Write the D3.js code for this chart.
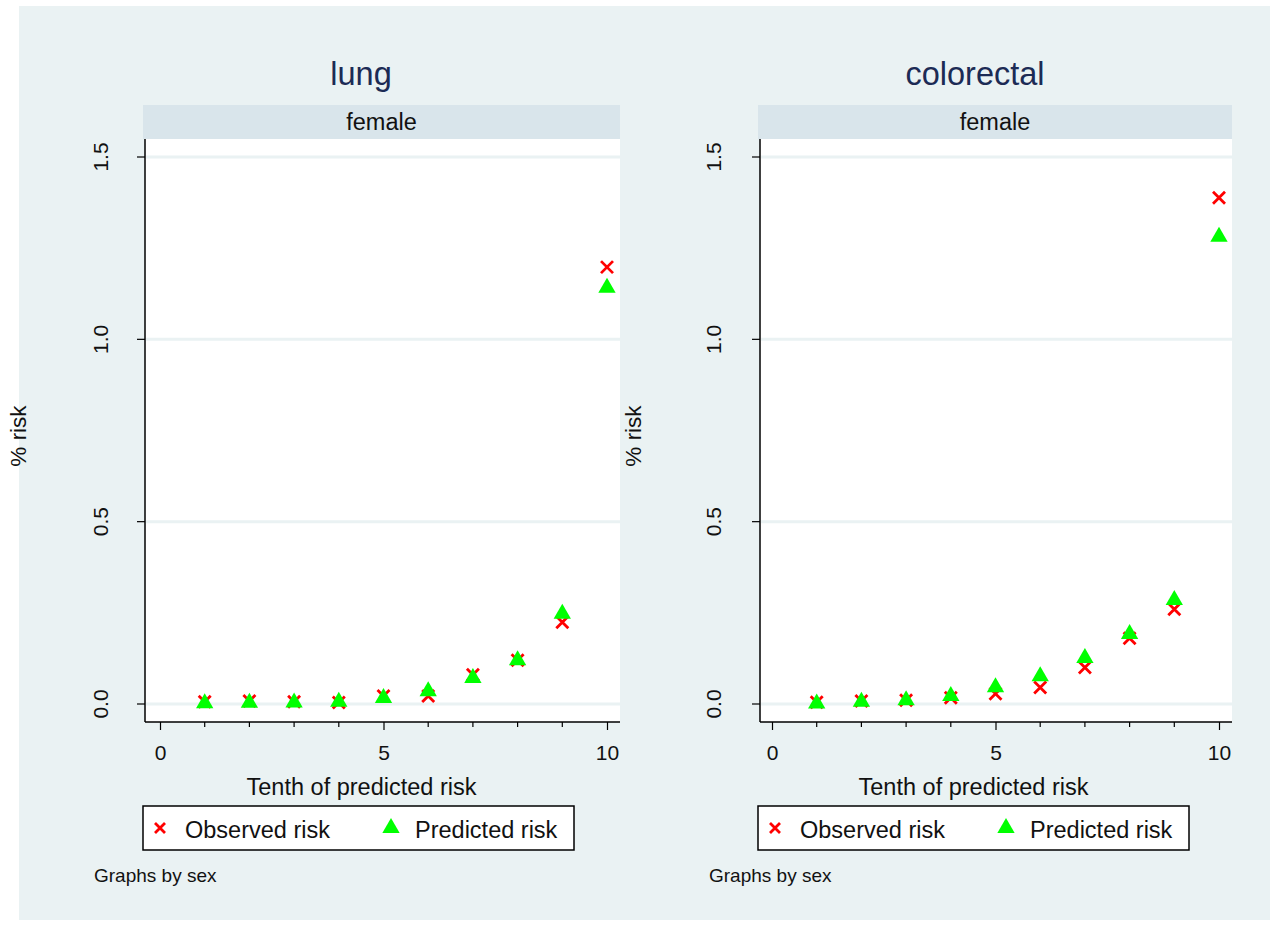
<!DOCTYPE html>
<html><head><meta charset="utf-8">
<script src="https://cdn.jsdelivr.net/npm/d3@7"></script>
<style>body{margin:0;background:#fff}svg{display:block}text{font-family:"Liberation Sans",Arial,sans-serif}</style>
</head><body>
<script>
const tenths = [1,2,3,4,5,6,7,8,9,10];
const lungObserved = [0.006,0.008,0.006,0.004,0.022,0.022,0.08,0.12,0.224,1.198];
const lungPredicted = [0.005,0.006,0.007,0.009,0.019,0.038,0.074,0.123,0.25,1.144];
const crcObserved = [0.005,0.008,0.01,0.017,0.028,0.045,0.1,0.18,0.26,1.388];
const crcPredicted = [0.004,0.009,0.013,0.025,0.049,0.079,0.129,0.195,0.288,1.284];
const panelTitles = ["lung","colorectal"];
const stripLabel = "female";
const yTicks = [0,0.5,1.0,1.5];
const xTicks = [0,5,10];
const xMinorTicks = [1,2,3,4,6,7,8,9];
const seriesNames = ["Observed risk","Predicted risk"];

const W=1278,H=925;
const svg=d3.select("body").append("svg").attr("width",W).attr("height",H);
svg.append("rect").attr("x",0).attr("y",0).attr("width",W).attr("height",H).attr("fill","#fff");
svg.append("rect").attr("x",19).attr("y",6).attr("width",1251).attr("height",914).attr("fill","#eaf2f3");

const panels=[
  {title:panelTitles[0],obs:lungObserved,pred:lungPredicted,left:143,right:620,x0:160,x1:607,titleX:361,ylabX:18,tickX:100},
  {title:panelTitles[1],obs:crcObserved,pred:crcPredicted,left:758,right:1232,x0:772,x1:1219,titleX:975,ylabX:633,tickX:713}
];
const plotTop=139,plotBottom=722;
const tri=d3.symbol().type(d3.symbolTriangle).size(130);
const LBL=23.5, TICK=21;

panels.forEach(p=>{
  const g=svg.append("g");
  const x=d3.scaleLinear().domain([0,10]).range([p.x0,p.x1]);
  const y=d3.scaleLinear().domain([0,1.5]).range([704,157]);
  g.append("text").attr("x",p.titleX).attr("y",85).attr("text-anchor","middle")
    .attr("font-size",32.5).attr("fill","#1c2b55").text(p.title);
  g.append("rect").attr("x",p.left).attr("y",105).attr("width",p.right-p.left).attr("height",34).attr("fill","#d9e5eb");
  g.append("text").attr("x",(p.left+p.right)/2).attr("y",130).attr("text-anchor","middle")
    .attr("font-size",LBL).attr("fill","#111").text(stripLabel);
  g.append("rect").attr("x",p.left+2).attr("y",plotTop).attr("width",p.right-p.left-2).attr("height",plotBottom-plotTop).attr("fill","#fff");
  g.selectAll(".grid").data(yTicks).join("line")
    .attr("x1",p.left+3).attr("x2",p.right).attr("y1",d=>y(d)).attr("y2",d=>y(d))
    .attr("stroke","#eaf2f3").attr("stroke-width",3);
  const ya=g.append("g").attr("transform",`translate(${p.left+2},0)`)
    .call(d3.axisLeft(y).tickValues(yTicks).tickSize(8).tickFormat(d3.format(".1f")));
  ya.select(".domain").attr("d",`M0,${plotTop}V${plotBottom}`).attr("stroke","#000").attr("stroke-width",1.5);
  ya.selectAll(".tick line").attr("stroke","#000").attr("stroke-width",1.2);
  ya.selectAll(".tick").attr("transform",null);
  ya.selectAll(".tick line").attr("y1",d=>y(d)).attr("y2",d=>y(d));
  ya.selectAll(".tick text").attr("x",0).attr("y",0).attr("dy",0).attr("font-size",TICK).attr("fill","#111")
    .attr("text-anchor","middle")
    .attr("transform",d=>`translate(${p.tickX-(p.left+2)+7.5},${y(d)}) rotate(-90)`);
  const xa=g.append("g").attr("transform",`translate(0,${plotBottom})`)
    .call(d3.axisBottom(x).tickValues(xTicks).tickSize(8).tickFormat(d3.format("d")));
  xa.select(".domain").attr("d",`M${p.left+2},0H${p.right}`).attr("stroke","#000").attr("stroke-width",1.5);
  xa.selectAll(".tick line").attr("stroke","#000").attr("stroke-width",1.2);
  xa.selectAll(".tick text").attr("font-size",TICK).attr("fill","#111").attr("y",23).attr("dy","0.71em");
  g.selectAll(".minor").data(xMinorTicks).join("line")
    .attr("x1",d=>x(d)).attr("x2",d=>x(d)).attr("y1",plotBottom).attr("y2",plotBottom+5)
    .attr("stroke","#000").attr("stroke-width",1.2);
  g.append("text").attr("x",(p.x0+p.x1)/2-22).attr("y",795).attr("text-anchor","middle")
    .attr("font-size",LBL).attr("fill","#111").text("Tenth of predicted risk");
  g.append("text").attr("transform",`translate(${p.ylabX+8},436) rotate(-90)`).attr("text-anchor","middle")
    .attr("font-size",22.5).attr("fill","#111").text("% risk");
  const s=6;
  const obs=g.selectAll(".obs").data(tenths.map((t,i)=>[t,p.obs[i]])).join("g")
    .attr("transform",d=>`translate(${x(d[0])},${y(d[1])})`);
  obs.append("path").attr("d",`M${-s},${-s}L${s},${s}M${-s},${s}L${s},${-s}`)
    .attr("stroke","#ff0000").attr("stroke-width",2.8).attr("fill","none");
  g.selectAll(".pred").data(tenths.map((t,i)=>[t,p.pred[i]])).join("path")
    .attr("d",tri).attr("fill","#00ff00")
    .attr("transform",d=>`translate(${x(d[0])},${y(d[1])+1})`);
  const lg=g.append("g").attr("transform",`translate(${p.left},806)`);
  lg.append("rect").attr("x",0).attr("y",0).attr("width",431).attr("height",44).attr("fill","#fff").attr("stroke","#000").attr("stroke-width",1.5);
  lg.append("path").attr("d",`M${17-5},${22-5}L${17+5},${22+5}M${17-5},${22+5}L${17+5},${22-5}`)
    .attr("stroke","#ff0000").attr("stroke-width",2.8);
  lg.append("text").attr("x",42).attr("y",32).attr("font-size",LBL).attr("fill","#111").text(seriesNames[0]);
  lg.append("path").attr("d",tri).attr("fill","#00ff00").attr("transform","translate(248,22)");
  lg.append("text").attr("x",272).attr("y",32).attr("font-size",LBL).attr("fill","#111").text(seriesNames[1]);
  g.append("text").attr("x",p.left-49).attr("y",882).attr("font-size",19).attr("fill","#111").text("Graphs by sex");
});
</script>
</body></html>
